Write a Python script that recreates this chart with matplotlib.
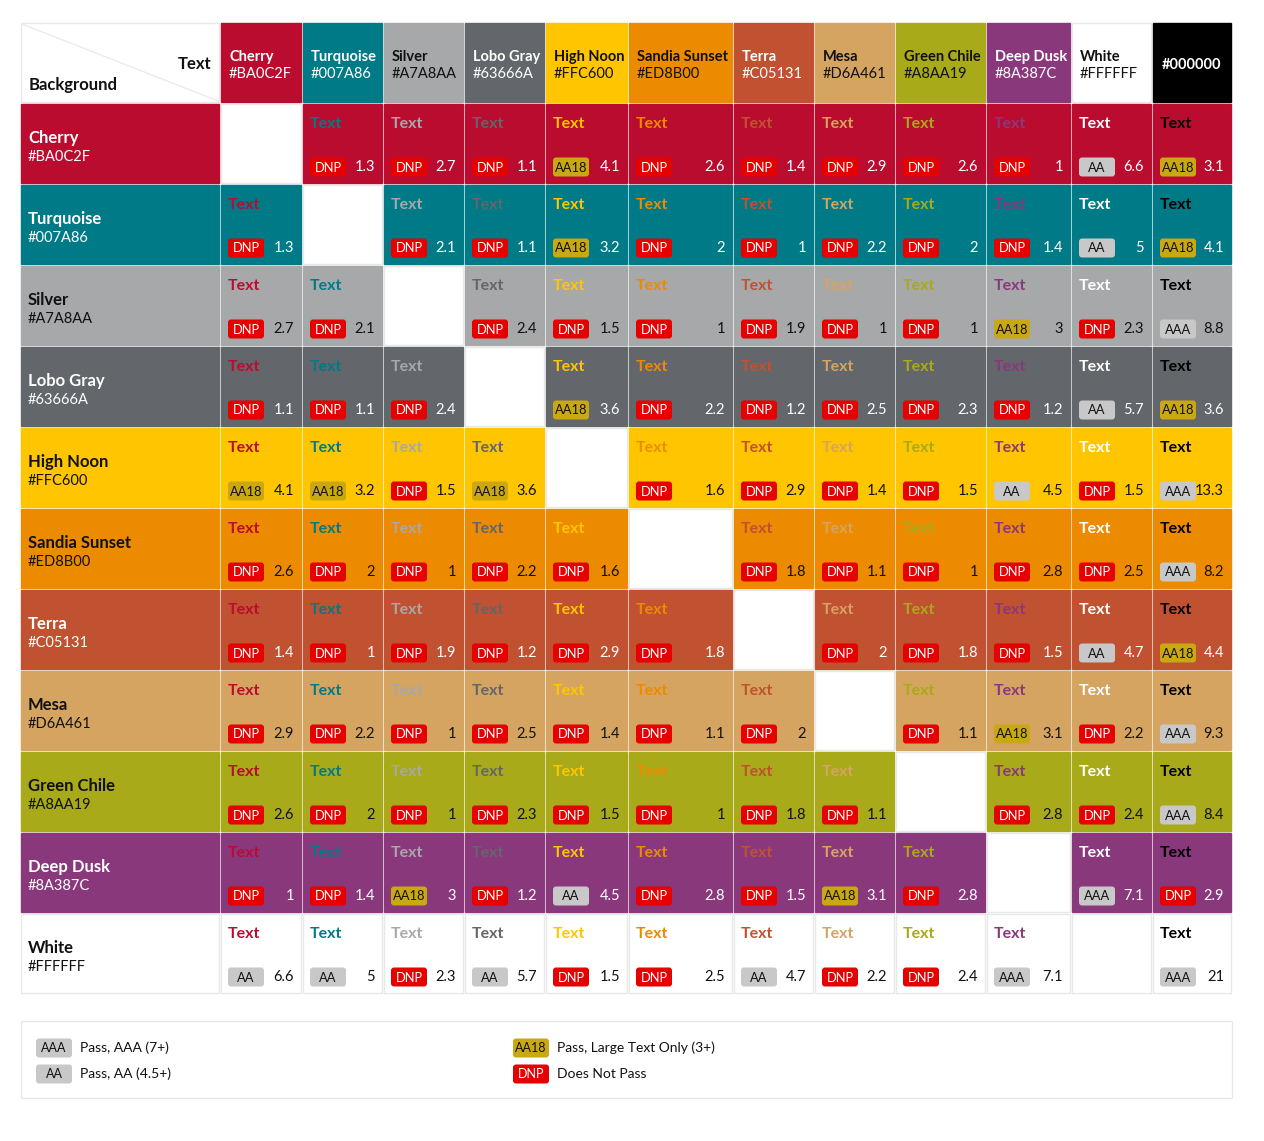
import numpy as np
import matplotlib.pyplot as plt
import matplotlib.patheffects as pe
from matplotlib import font_manager as fm
from matplotlib.patches import Rectangle, FancyBboxPatch

plt.rcParams['font.family'] = ['Lato', 'DejaVu Sans']

# Palette: names and hex codes
names = ['Cherry', 'Turquoise', 'Silver', 'Lobo Gray', 'High Noon', 'Sandia Sunset',
         'Terra', 'Mesa', 'Green Chile', 'Deep Dusk', 'White']
hexes = ['#BA0C2F', '#007A86', '#A7A8AA', '#63666A', '#FFC600', '#ED8B00',
         '#C05131', '#D6A461', '#A8AA19', '#8A387C', '#FFFFFF']
col_names = names + ['']
col_hexes = hexes + ['#000000']

# contrast ratios: rows = background, columns = text colour (None = same colour)
ratios = [
    [None, 1.3, 2.7, 1.1, 4.1, 2.6, 1.4, 2.9, 2.6, 1, 6.6, 3.1],
    [1.3, None, 2.1, 1.1, 3.2, 2, 1, 2.2, 2, 1.4, 5, 4.1],
    [2.7, 2.1, None, 2.4, 1.5, 1, 1.9, 1, 1, 3, 2.3, 8.8],
    [1.1, 1.1, 2.4, None, 3.6, 2.2, 1.2, 2.5, 2.3, 1.2, 5.7, 3.6],
    [4.1, 3.2, 1.5, 3.6, None, 1.6, 2.9, 1.4, 1.5, 4.5, 1.5, 13.3],
    [2.6, 2, 1, 2.2, 1.6, None, 1.8, 1.1, 1, 2.8, 2.5, 8.2],
    [1.4, 1, 1.9, 1.2, 2.9, 1.8, None, 2, 1.8, 1.5, 4.7, 4.4],
    [2.9, 2.2, 1, 2.5, 1.4, 1.1, 2, None, 1.1, 3.1, 2.2, 9.3],
    [2.6, 2, 1, 2.3, 1.5, 1, 1.8, 1.1, None, 2.8, 2.4, 8.4],
    [1, 1.4, 3, 1.2, 4.5, 2.8, 1.5, 3.1, 2.8, None, 7.1, 2.9],
    [6.6, 5, 2.3, 5.7, 1.5, 2.5, 4.7, 2.2, 2.4, 7.1, None, 21],
]

legend_items = [('AAA', 'Pass, AAA (7+)'), ('AA', 'Pass, AA (4.5+)'),
                ('AA18', 'Pass, Large Text Only (3+)'), ('DNP', 'Does Not Pass')]

badge_face = {'AAA': '#C8C8C8', 'AA': '#C8C8C8', 'AA18': '#C9A812', 'DNP': '#E60000'}
badge_text = {'AAA': '#111111', 'AA': '#111111', 'AA18': '#111111', 'DNP': '#FFFFFF'}

# find a real Lato bold file; otherwise fake bold with a thin stroke
bold_file = None
for f in fm.fontManager.ttflist:
    fn = f.fname.lower()
    if 'lato' in fn and 'bold' in fn and 'italic' not in fn and 'semi' not in fn \
            and 'extra' not in fn and 'ultra' not in fn:
        bold_file = f.fname
        break


def bold_kw(size, color, stroke=0.9):
    if bold_file:
        return dict(fontproperties=fm.FontProperties(fname=bold_file, size=size), color=color)
    return dict(fontsize=size, color=color,
                path_effects=[pe.withStroke(linewidth=stroke, foreground=color)])


def badge_for(r):
    if r >= 7:
        return 'AAA'
    if r >= 4.5:
        return 'AA'
    if r >= 3:
        return 'AA18'
    return 'DNP'


def lum(h):
    c = np.array([int(h[i:i + 2], 16) for i in (1, 3, 5)]) / 255
    c = np.where(c <= 0.03928, c / 12.92, ((c + 0.055) / 1.055) ** 2.4)
    return 0.2126 * c[0] + 0.7152 * c[1] + 0.0722 * c[2]


def ink(h):
    L = lum(h)
    return '#FFFFFF' if 1.05 / (L + 0.05) > (L + 0.05) / 0.05 else '#111111'


def fmt(r):
    return f'{r:g}'


# layout (pixels)
W, H = 1264, 1141
x0, y0 = 20, 22
head_w = 200
col_w = [82, 81, 81, 81, 83, 105, 81, 81, 91, 85, 81, 80]
row_h = 81
col_x = x0 + head_w + np.concatenate([[0], np.cumsum(col_w)])

fig = plt.figure(figsize=(W / 100, H / 100), dpi=100)
ax = fig.add_axes([0, 0, 1, 1])
ax.set_xlim(0, W)
ax.set_ylim(H, 0)
ax.axis('off')

border = '#E8E8E8'


def cell(x, y, w, h, face):
    edge = border if face.upper() == '#FFFFFF' else face
    ax.add_patch(Rectangle((x + 1, y + 1), w - 2, h - 2, facecolor=face,
                           edgecolor=edge, lw=1))


def badge(x, yc, kind, w=36, h=19, size=9.3):
    ax.add_patch(FancyBboxPatch((x + 2, yc - h / 2 + 2), w - 4, h - 4,
                                boxstyle='round,pad=2,rounding_size=3',
                                facecolor=badge_face[kind], edgecolor='none'))
    ax.text(x + w / 2, yc + 0.5, kind, ha='center', va='center', fontsize=size,
            color=badge_text[kind])


# corner cell
cell(x0, y0, head_w, row_h, '#FFFFFF')
ax.plot([x0 + 2, x0 + head_w - 2], [y0 + 2, y0 + row_h - 2], color='#EBEBEB', lw=1)
ax.text(x0 + head_w - 9, y0 + 42, 'Text', ha='right', va='center',
        **bold_kw(12, '#111111'))
ax.text(x0 + 9, y0 + 63, 'Background', ha='left', va='center',
        **bold_kw(12, '#111111'))

# column headers
for j, (nm, hx) in enumerate(zip(col_names, col_hexes)):
    x, w = col_x[j], col_w[j]
    cell(x, y0, w, row_h, hx)
    c = ink(hx)
    if nm:
        ax.text(x + 9, y0 + 35, nm, ha='left', va='center', **bold_kw(10.5, c, stroke=0.7))
        ax.text(x + 9, y0 + 52, hx, ha='left', va='center', fontsize=10.5, color=c)
    else:
        ax.text(x + w / 2, y0 + 43, hx, ha='center', va='center', **bold_kw(10.5, c))

# body rows
for i, (nm, bg) in enumerate(zip(names, hexes)):
    y = y0 + row_h * (i + 1)
    c = ink(bg)
    cell(x0, y, head_w, row_h, bg)
    ax.text(x0 + 8, y + 35, nm, ha='left', va='center', **bold_kw(12, c))
    ax.text(x0 + 8, y + 54, bg, ha='left', va='center', fontsize=10.5, color=c)
    for j, fg in enumerate(col_hexes):
        x, w = col_x[j], col_w[j]
        r = ratios[i][j]
        if r is None:
            cell(x, y, w, row_h, '#FFFFFF')
            continue
        cell(x, y, w, row_h, bg)
        ax.text(x + 8, y + 21, 'Text', ha='left', va='center',
                **bold_kw(11.5, fg, stroke=0.5))
        badge(x + 8, y + 64, badge_for(r))
        ax.text(x + w - 8, y + 64, fmt(r), ha='right', va='center',
                fontsize=10.5, color=c)

# legend box
ly = y0 + row_h * (len(names) + 1) + 27
ax.add_patch(Rectangle((x0 + 0.5, ly), col_x[-1] - x0 - 1, 77, facecolor='white',
                       edgecolor=border, lw=1))
leg_x = [36, 36, 513, 513]
leg_y = [ly + 27, ly + 53, ly + 27, ly + 53]
for (kind, label), lx, yy in zip(legend_items, leg_x, leg_y):
    badge(lx, yy, kind, w=36, h=19, size=9)
    ax.text(lx + 44, yy, label, ha='left', va='center', fontsize=10, color='#111111')

fig.savefig('out.png', dpi=100)
